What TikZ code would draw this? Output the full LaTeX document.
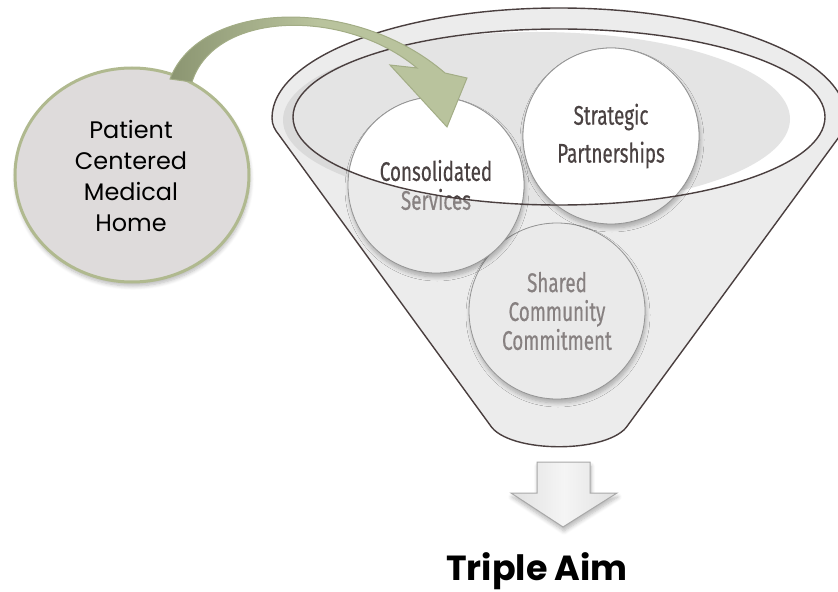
\documentclass[tikz,border=0pt]{standalone}
\usepackage{fontspec}
\usetikzlibrary{shadows.blur,shapes.geometric}
\newfontfamily\condfont[FakeStretch=0.70,FakeBold=0.4]{Fira Sans}
\newfontfamily\geofont{Poppins}
\definecolor{funnelfill}{HTML}{ECECEC}
\definecolor{rimshadow}{HTML}{DADADA}
\definecolor{rimgray}{HTML}{E4E4E4}
\definecolor{outline}{HTML}{4A3F3F}
\definecolor{circborder}{HTML}{959595}
\definecolor{darktext}{HTML}{4A4242}
\definecolor{fadetext}{HTML}{878181}
\definecolor{bubblegray}{HTML}{EAEAEA}
\definecolor{pcmhfill}{HTML}{DEDBDB}
\definecolor{pcmhborder}{HTML}{B0B98F}
\definecolor{olivedark}{HTML}{8B9571}
\definecolor{sage}{HTML}{B9C39D}
\definecolor{sageborder}{HTML}{A3AD86}
\definecolor{arrowborder}{HTML}{A8A8A8}
\tikzset{
  softshadow/.style={blur shadow={shadow xshift=1bp, shadow yshift=-4bp, shadow blur radius=4bp, shadow opacity=28, shadow blur steps=6}},
  bubble/.style={circle, minimum size=176bp, inner sep=0pt, draw=circborder, line width=0.8bp,
     font=\condfont\fontsize{27}{29}\selectfont, align=center},
  rimline/.style={draw=outline, line width=1.4bp},
}
\begin{document}
\begin{tikzpicture}[x=1bp,y=-1bp]
\useasboundingbox (0,0) rectangle (838,592);

% funnel body
\path[fill=funnelfill] (272,118) arc[start angle=180, end angle=360, x radius=287, y radius=110]
  .. controls (846,126) and (843,131) .. (839,137) -- (628,425)
  .. controls (610,454) and (508,454) .. (490,425) -- (279,135)
  .. controls (275,130) and (272,125) .. (272,118) -- cycle;

% rim shadow and inner opening
\fill[rimshadow] (537,120) ellipse [x radius=254, y radius=86];
\begin{scope}
  \clip (559,117) ellipse [x radius=266, y radius=88];
  \fill[white] (559,117) ellipse [x radius=266, y radius=88];
  \fill[rimgray] (537,119) ellipse [x radius=253, y radius=87];
\end{scope}

% bubbles, faded pass
\node[bubble, fill=bubblegray, text=fadetext, softshadow] (c3) at (557,311) {Shared\\Community\\Commitment};
\node[bubble, fill=bubblegray, text=fadetext, softshadow] (c1) at (436,185) {Consolidated\\Services};
\node[bubble, fill=bubblegray, text=fadetext, softshadow] (c2) at (611,136) {Strategic\\[9bp]Partnerships};

% bubbles, inside the opening
\begin{scope}
  \clip (559,117) ellipse [x radius=266, y radius=88];
  \node[bubble, fill=white, text=darktext] (c1w) at (436,185) {Consolidated\\Services};
  \node[bubble, fill=white, text=darktext] (c2w) at (611,136) {Strategic\\[9bp]Partnerships};
\end{scope}

% outlines
\draw[rimline] (559,117) ellipse [x radius=266, y radius=88];
\draw[rimline] (272,118) arc[start angle=180, end angle=360, x radius=287, y radius=110]
  .. controls (846,126) and (843,131) .. (839,137) -- (628,425)
  .. controls (610,454) and (508,454) .. (490,425) -- (279,135)
  .. controls (275,130) and (272,125) .. (272,118) -- cycle;

% patient centered medical home
\node[ellipse, minimum width=236bp, minimum height=216bp, inner sep=0pt] (pcmhshape) at (132,175) {};
\fill[pcmhfill, draw=pcmhborder, line width=3bp, softshadow] (132,175) ellipse [x radius=117, y radius=107];
\node[font=\geofont\fontsize{24}{31}\selectfont, align=center, text=black] (pcmh) at (131,176) {Patient\\Centered\\Medical\\Home};

% green curved arrow
\path[left color=olivedark, right color=sage, middle color=sage, draw=sageborder, line width=1bp]
  (170,79) .. controls (200,0) and (355,-5) .. (445,73) -- (467,78) -- (447,127) -- (390,65) -- (417,68)
  .. controls (345,8) and (215,10) .. (192,82) -- cycle;

% down arrow and result
\path[left color=white!88!black, right color=white!88!black, middle color=white!96!black, draw=arrowborder, line width=1bp, softshadow]
  (537,462) -- (590,462) -- (590,493) -- (617,493) -- (563,527) -- (511,493) -- (537,493) -- cycle;
\node[font=\geofont\bfseries\fontsize{35}{40}\selectfont, anchor=base, text=black] (aim) at (537,580) {Triple Aim};
\end{tikzpicture}
\end{document}
